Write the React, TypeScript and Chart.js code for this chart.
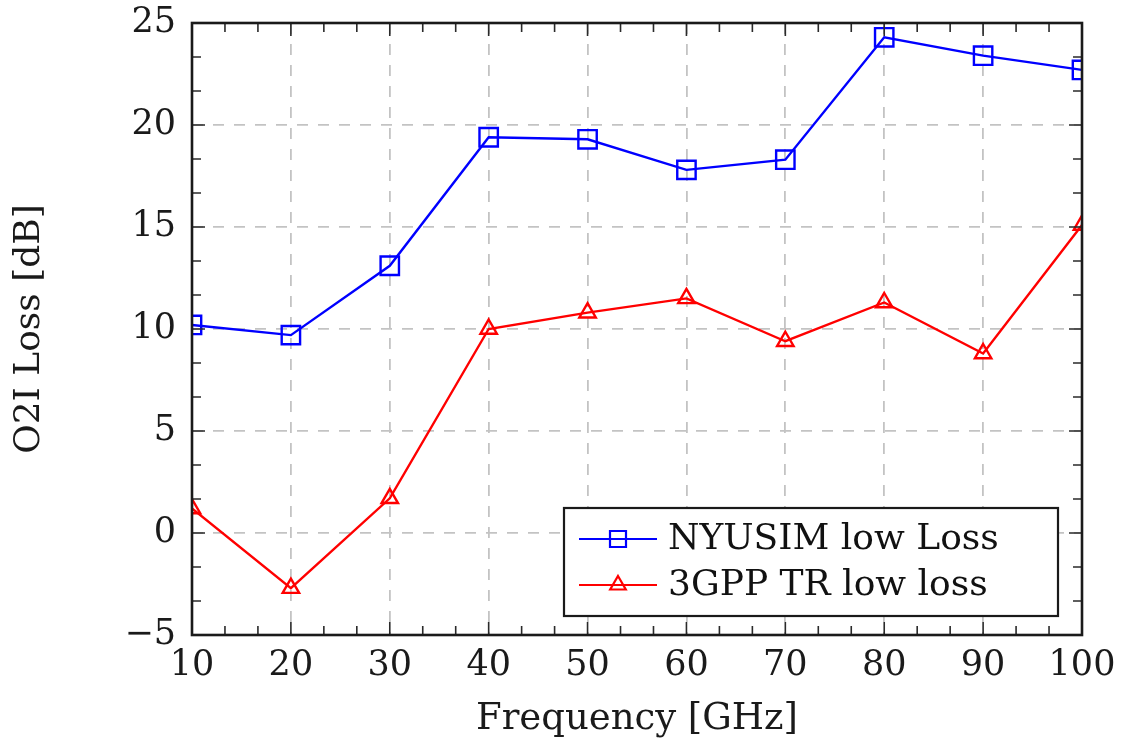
import React, { useEffect, useRef } from "react";
import { Chart, registerables } from "chart.js";

Chart.register(...registerables);

const frequencies = [10, 20, 30, 40, 50, 60, 70, 80, 90, 100];
const nyusimLowLoss = [10.2, 9.7, 13.1, 19.4, 19.3, 17.8, 18.3, 24.3, 23.4, 22.7];
const tr3gppLowLoss = [1.2, -2.7, 1.7, 10.0, 10.8, 11.5, 9.4, 11.3, 8.8, 15.1];
const seriesLabels = ["NYUSIM low Loss", "3GPP TR low loss"];
const xTitle = "Frequency [GHz]";
const yTitle = "O2I Loss [dB]";

const FONT = "'DejaVu Serif', 'Liberation Serif', serif";

const framePlugin = {
  id: "framePlugin",
  afterDraw(chart: any) {
    const ctx = chart.ctx;
    const { left, right, top, bottom } = chart.chartArea;
    const xs = chart.scales.x;
    const ys = chart.scales.y;
    ctx.save();
    ctx.strokeStyle = "#2a2a2a";
    ctx.lineWidth = 1.6;
    for (let v = 10; v <= 100.001; v += 10 / 3) {
      const rel = (v - 10) / 10;
      const isMajor = Math.abs(rel - Math.round(rel)) < 1e-6;
      const len = isMajor ? 13 : 9;
      const px = xs.getPixelForValue(v);
      ctx.beginPath();
      ctx.moveTo(px, bottom);
      ctx.lineTo(px, bottom - len);
      ctx.moveTo(px, top);
      ctx.lineTo(px, top + len);
      ctx.stroke();
    }
    for (let v = -5; v <= 25.001; v += 5 / 3) {
      const rel = (v + 5) / 5;
      const isMajor = Math.abs(rel - Math.round(rel)) < 1e-6;
      const len = isMajor ? 13 : 9;
      const py = ys.getPixelForValue(v);
      ctx.beginPath();
      ctx.moveTo(left, py);
      ctx.lineTo(left + len, py);
      ctx.moveTo(right, py);
      ctx.lineTo(right - len, py);
      ctx.stroke();
    }
    ctx.lineWidth = 2.6;
    ctx.strokeStyle = "#1a1a1a";
    ctx.strokeRect(left, top, right - left, bottom - top);

    // legend
    const bx = 564, by = 508, bw = 494, bh = 108;
    ctx.fillStyle = "#ffffff";
    ctx.fillRect(bx, by, bw, bh);
    ctx.lineWidth = 2.2;
    ctx.strokeStyle = "#1a1a1a";
    ctx.strokeRect(bx, by, bw, bh);
    const rows = [539, 585];
    chart.data.datasets.forEach((ds: any, i: number) => {
      const cy = rows[i];
      ctx.strokeStyle = ds.borderColor;
      ctx.lineWidth = 2.2;
      ctx.beginPath();
      ctx.moveTo(579, cy);
      ctx.lineTo(657, cy);
      ctx.stroke();
      const cx = 618;
      ctx.beginPath();
      if (ds.pointStyle === "rect") {
        ctx.rect(cx - 8, cy - 8, 16, 16);
      } else {
        const r = 9;
        ctx.moveTo(cx, cy - r);
        ctx.lineTo(cx + r * 0.866, cy + r * 0.5);
        ctx.lineTo(cx - r * 0.866, cy + r * 0.5);
        ctx.closePath();
      }
      ctx.stroke();
      ctx.fillStyle = "#111111";
      ctx.font = `36px ${FONT}`;
      ctx.textBaseline = "middle";
      ctx.textAlign = "left";
      ctx.fillText(ds.label, 668, cy + 1);
    });
    ctx.restore();
  },
};

export default function App() {
  const canvasRef = useRef<HTMLCanvasElement | null>(null);

  useEffect(() => {
    document.body.style.margin = "0";
    const canvas = canvasRef.current;
    if (!canvas) return;
    const chart = new Chart(canvas, {
      type: "line",
      data: {
        datasets: [
          {
            label: seriesLabels[0],
            data: frequencies.map((f, i) => ({ x: f, y: nyusimLowLoss[i] })),
            borderColor: "rgb(0,0,255)",
            backgroundColor: "rgba(0,0,0,0)",
            borderWidth: 2.4,
            pointStyle: "rect",
            pointRadius: 13,
            pointBorderWidth: 2.4,
            pointBorderColor: "rgb(0,0,255)",
            pointBackgroundColor: "rgba(0,0,0,0)",
            tension: 0,
          },
          {
            label: seriesLabels[1],
            data: frequencies.map((f, i) => ({ x: f, y: tr3gppLowLoss[i] })),
            borderColor: "rgb(255,0,0)",
            backgroundColor: "rgba(0,0,0,0)",
            borderWidth: 2.4,
            pointStyle: "triangle",
            pointRadius: 9.5,
            pointBorderWidth: 2.4,
            pointBorderColor: "rgb(255,0,0)",
            pointBackgroundColor: "rgba(0,0,0,0)",
            tension: 0,
          },
        ],
      },
      options: {
        responsive: false,
        animation: false,
        layout: { padding: { left: 0, top: 23, right: 41, bottom: 0 } },
        plugins: {
          legend: { display: false },
          tooltip: { enabled: false },
        },
        scales: {
          x: {
            type: "linear",
            min: 10,
            max: 100,
            ticks: {
              stepSize: 10,
              color: "#1a1a1a",
              font: { family: FONT, size: 35 },
              padding: 10,
              maxRotation: 0,
            },
            grid: { color: "rgb(195,195,195)", lineWidth: 1.8, drawTicks: false },
            border: { display: false, dash: [11, 10] },
            title: {
              display: true,
              text: xTitle,
              color: "#1a1a1a",
              font: { family: FONT, size: 37 },
              padding: { top: -4, bottom: -4 },
            },
            afterFit: (s: any) => {
              s.height = 103;
              s.paddingLeft = 0;
              s.paddingRight = 0;
            },
          },
          y: {
            type: "linear",
            min: -5,
            max: 25,
            ticks: {
              stepSize: 5,
              color: "#1a1a1a",
              font: { family: FONT, size: 35 },
              padding: 16,
              callback: (v: any) => String(v).replace("-", "\u2212"),
            },
            grid: { color: "rgb(195,195,195)", lineWidth: 1.8, drawTicks: false },
            border: { display: false, dash: [11, 10] },
            title: {
              display: true,
              text: yTitle,
              color: "#1a1a1a",
              font: { family: FONT, size: 36 },
              padding: { top: 8, bottom: 0 },
            },
            afterFit: (s: any) => {
              s.width = 192;
              s.paddingTop = 0;
              s.paddingBottom = 0;
            },
          },
        },
      },
      plugins: [framePlugin],
    });
    return () => chart.destroy();
  }, []);

  return (
    <div style={{ position: "absolute", left: 0, top: 0, width: 1123, height: 738, background: "#fff" }}>
      <canvas ref={canvasRef} width={1123} height={738} />
    </div>
  );
}
